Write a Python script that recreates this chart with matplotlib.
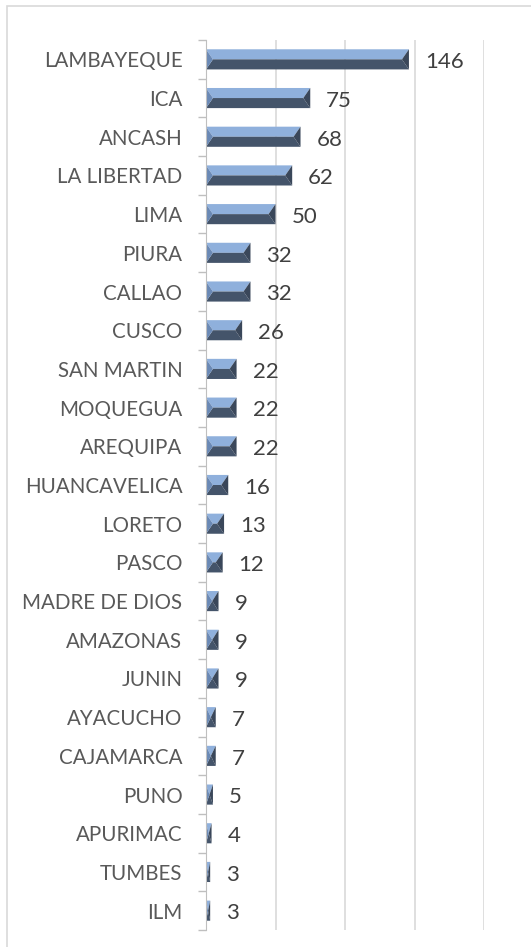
import matplotlib.pyplot as plt
from matplotlib.patches import Polygon, Rectangle

categories = ['LAMBAYEQUE', 'ICA', 'ANCASH', 'LA LIBERTAD', 'LIMA', 'PIURA', 'CALLAO',
              'CUSCO', 'SAN MARTIN', 'MOQUEGUA', 'AREQUIPA', 'HUANCAVELICA', 'LORETO',
              'PASCO', 'MADRE DE DIOS', 'AMAZONAS', 'JUNIN', 'AYACUCHO', 'CAJAMARCA',
              'PUNO', 'APURIMAC', 'TUMBES', 'ILM']
values = [146, 75, 68, 62, 50, 32, 32, 26, 22, 22, 22, 16, 13, 12, 9, 9, 9, 7, 7, 5, 4, 3, 3]

LIGHT = '#8fb0dc'
MID = '#6a89b5'
DARK = '#44546a'
DARKER = '#3a475a'

plt.rcParams['font.family'] = ['Lato', 'DejaVu Sans']

fig = plt.figure(figsize=(5.31, 9.47), dpi=100)
# outer chart border (left and top visible)
fig.patches.append(Rectangle((7 / 531, -0.1), 1.2, 1 - 6 / 947 + 0.1, transform=fig.transFigure,
                             fill=False, edgecolor='#d9d9d9', linewidth=1.2))

ax = fig.add_axes([206 / 531, 1 - 930 / 947, (484 - 206) / 531, (930 - 40) / 947])
n = len(categories)
ax.set_xlim(0, 200)
ax.set_ylim(n - 0.5, -0.5)

h = 0.52
for i, v in enumerate(values):
    top, mid, bot = i - h / 2, i, i + h / 2
    d = min(5.0, v / 2)
    ax.add_patch(Polygon([(0, top), (v, top), (v - d, mid), (d, mid)], closed=True,
                         facecolor=LIGHT, edgecolor='none'))
    ax.add_patch(Polygon([(d, mid), (v - d, mid), (v, bot), (0, bot)], closed=True,
                         facecolor=DARK, edgecolor='none'))
    ax.add_patch(Polygon([(0, top), (d, mid), (0, bot)], closed=True,
                         facecolor=MID, edgecolor='none'))
    ax.add_patch(Polygon([(v, top), (v, bot), (v - d, mid)], closed=True,
                         facecolor=DARKER, edgecolor='none'))
    ax.annotate(str(v), (v, i), xytext=(11.5, -2), textcoords='offset points',
                ha='left', va='center', fontsize=16, color='#404040')

ax.set_xticks([50, 100, 150, 200])
ax.set_xticklabels([])
ax.tick_params(axis='x', length=0)
ax.grid(axis='x', color='#d9d9d9', linewidth=1.2)
ax.set_axisbelow(True)

ax.set_yticks(range(n))
ax.set_yticklabels(categories, fontsize=14.8, color='#595959')
ax.set_yticks([k - 0.5 for k in range(n + 1)], minor=True)
ax.tick_params(axis='y', which='major', length=0, pad=17)
ax.tick_params(axis='y', which='minor', length=6, color='#bfbfbf', width=1)
for lbl in ax.get_yticklabels():
    lbl.set_y(lbl.get_position()[1])

for s in ['top', 'right', 'bottom']:
    ax.spines[s].set_visible(False)
ax.spines['left'].set_color('#bfbfbf')

fig.savefig('out.png', dpi=100)
